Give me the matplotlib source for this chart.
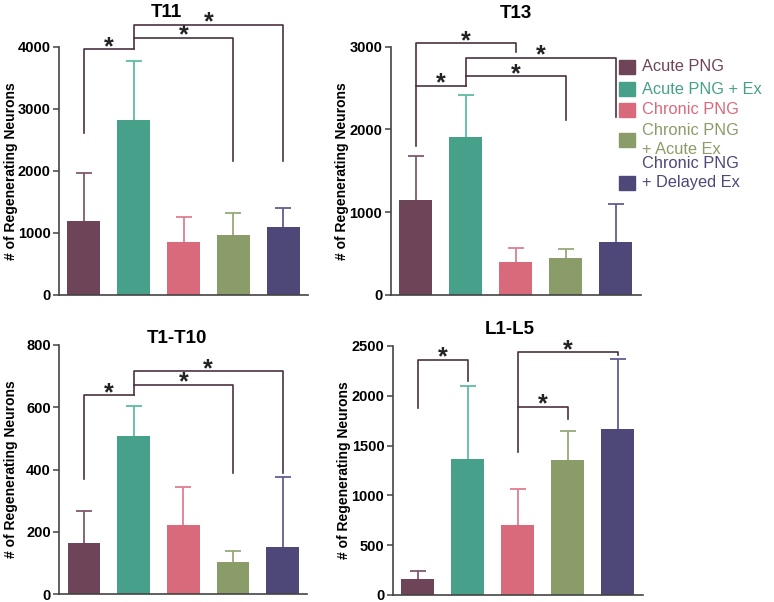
import matplotlib
matplotlib.use('Agg')
import matplotlib.pyplot as plt
from matplotlib.patches import Rectangle

plt.rcParams['font.family'] = ['Liberation Sans', 'DejaVu Sans']

groups = ['Acute PNG', 'Acute PNG + Ex', 'Chronic PNG',
          'Chronic PNG\n+ Acute Ex', 'Chronic PNG\n+ Delayed Ex']
bar_colors = ['#6E4558', '#46A08A', '#D96A7C', '#8A9C68', '#4D4878']
err_colors = ['#80596C', '#5EBCA4', '#DE7F90', '#97A97A', '#625D92']
bracket_color = '#4B3142'

titles = ['T11', 'T13', 'T1-T10', 'L1-L5']

t11_mean = [1200, 2820, 860, 970, 1090]
t11_err = [770, 950, 405, 350, 310]
t13_mean = [1150, 1905, 400, 445, 635]
t13_err = [535, 510, 170, 110, 465]
t1t10_mean = [163, 508, 221, 104, 151]
t1t10_err = [105, 96, 122, 34, 226]
l1l5_mean = [157, 1369, 700, 1352, 1670]
l1l5_err = [87, 726, 361, 298, 699]

t11_ticks = [0, 1000, 2000, 3000, 4000]
t13_ticks = [0, 1000, 2000, 3000]
t1t10_ticks = [0, 200, 400, 600, 800]
l1l5_ticks = [0, 500, 1000, 1500, 2000, 2500]

# significance brackets: (group i, group j, bar height, left leg end, right leg end)
t11_sig = [(0, 1, 3960, 2610, 3960), (1, 3, 4147, 3960, 2160), (1, 4, 4360, 4147, 2160)]
t13_sig = [(0, 2, 3040, 1800, 2938), (0, 1, 2528, 2528, 2528),
           (1, 3, 2645, 2528, 2113), (1, 4, 2866, 2645, 2146)]
t1t10_sig = [(0, 1, 638, 369, 638), (1, 3, 672, 638, 388), (1, 4, 715, 672, 388)]
l1l5_sig = [(0, 1, 2360, 1875, 2149), (2, 4, 2440, 1439, 2410), (2, 3, 1890, 1890, 1764)]

W, H = 774, 602
fig = plt.figure(figsize=(W / 100, H / 100), dpi=100)

rects = [
    [59 / W, 1 - 295 / H, 249 / W, 248 / H],
    [390.7 / W, 1 - 295 / H, 250 / W, 248.3 / H],
    [59.3 / W, 1 - 594 / H, 248 / W, 249 / H],
    [392.7 / W, 1 - 595 / H, 250 / W, 249 / H],
]
title_pos = [(0.43, 1.12), (0.5, 1.115), (0.475, 1.008), (0.47, 1.047)]
data = [
    (t11_mean, t11_err, t11_ticks, t11_sig),
    (t13_mean, t13_err, t13_ticks, t13_sig),
    (t1t10_mean, t1t10_err, t1t10_ticks, t1t10_sig),
    (l1l5_mean, l1l5_err, l1l5_ticks, l1l5_sig),
]

x = list(range(len(groups)))
for rect, title, tpos, (means, errs, ticks, sigs) in zip(rects, titles, title_pos, data):
    ax = fig.add_axes(rect)
    ax.bar(x, means, width=0.66, color=bar_colors, zorder=2)
    for i in x:
        _, caps, _ = ax.errorbar(i, means[i], yerr=[[0], [errs[i]]], color=err_colors[i],
                                 elinewidth=1.3, capsize=6, capthick=1.3, zorder=1)
        for c in caps:
            if abs(c.get_ydata()[0] - means[i]) < 1e-9:
                c.set_visible(False)
    ax.set_xlim(-0.5, 4.5)
    ax.set_ylim(0, ticks[-1])
    ax.set_xticks([])
    ax.set_yticks(ticks)
    ax.set_yticklabels([str(t) for t in ticks], fontweight='bold', fontsize=10.5)
    ax.tick_params(axis='y', length=4, width=1.1, color='#444444', pad=2)
    for s in ['top', 'right']:
        ax.spines[s].set_visible(False)
    for s in ['left', 'bottom']:
        ax.spines[s].set_color('#444444')
        ax.spines[s].set_linewidth(1.2)
    ax.set_ylabel('# of Regenerating Neurons', fontweight='bold', fontsize=10)
    ax.yaxis.set_label_coords(-0.165, 0.5)
    ax.text(tpos[0], tpos[1], title, transform=ax.transAxes, ha='center',
            va='baseline', fontsize=13.5, fontweight='bold')
    for (i, j, y, yl, yr) in sigs:
        ax.plot([i, i, j, j], [yl, y, y, yr], color=bracket_color, lw=1.2,
                clip_on=False, zorder=3)
        ax.annotate('*', xy=((i + j) / 2, y), xytext=(0, -3.5),
                    textcoords='offset points', ha='center', va='baseline',
                    fontsize=18, fontweight='bold', color='#222222',
                    annotation_clip=False)

# legend
legend_text_y = [[66.7], [89], [110], [130.7, 150], [164, 183]]
legend_box_y = [66.7, 89, 110, 140, 182.7]
for g, col, ty, by in zip(groups, bar_colors, legend_text_y, legend_box_y):
    fig.add_artist(Rectangle((619 / W, 1 - (by + 7) / H), 16 / W, 14 / H,
                             transform=fig.transFigure, color=col))
    for line, yy in zip(g.split('\n'), ty):
        fig.text(642 / W, 1 - yy / H, line, color=col, fontsize=11.8,
                 ha='left', va='center')

fig.savefig('out.png', dpi=100)
